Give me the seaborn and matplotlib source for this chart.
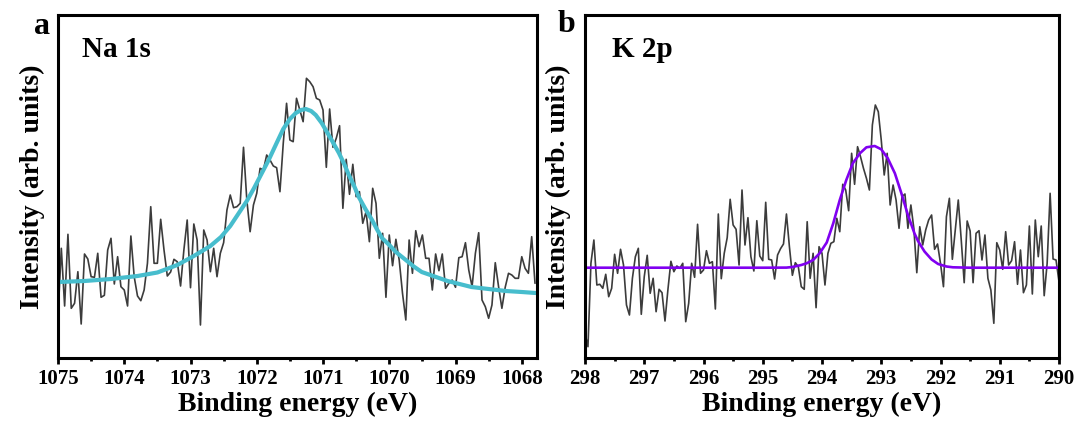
import numpy as np
import pandas as pd
import matplotlib
matplotlib.use("Agg")
import matplotlib.pyplot as plt
import seaborn as sns
from matplotlib.ticker import MultipleLocator

# ---------------- data ----------------
# Na 1s: measured spectrum (uniform energy grid, 0.05 eV step)
na_start, na_step = 1075.0, 0.05
na_counts = [
    41.3, 109.7, 52.0, 123.7, 49.7, 54.7, 86.3, 34.0, 104.0, 99.0, 81.3, 80.7,
    104.7, 60.7, 62.7, 108.0, 119.7, 74.0, 101.3, 71.3, 68.0, 52.0, 122.0, 81.3,
    62.0, 57.3, 68.0, 94.7, 151.3, 94.7, 94.7, 138.7, 108.0, 82.0, 86.0, 98.7,
    96.3, 72.0, 108.0, 138.0, 70.3, 134.0, 118.0, 33.0, 128.0, 118.0, 86.3, 109.7,
    81.3, 104.7, 115.3, 148.0, 163.0, 150.3, 151.3, 154.7, 210.7, 158.0, 126.3, 153.0,
    164.7, 189.7, 188.0, 203.0, 198.0, 192.0, 190.3, 166.3, 214.7, 254.7, 218.0, 216.3,
    259.7, 248.0, 236.3, 279.7, 276.3, 271.3, 259.7, 258.0, 248.0, 190.7, 249.0, 210.7,
    219.7, 232.3, 149.7, 198.7, 163.7, 193.7, 161.3, 166.3, 134.7, 146.3, 116.3, 169.7,
    154.7, 99.7, 124.7, 60.7, 123.0, 92.3, 118.7, 98.0, 64.7, 38.0, 118.0, 84.7,
    127.3, 111.3, 123.0, 99.7, 99.7, 68.0, 104.0, 87.3, 104.0, 69.7, 74.7, 78.0,
    70.7, 100.3, 101.3, 115.3, 88.0, 71.3, 104.7, 125.3, 58.0, 51.3, 39.7, 53.0,
    95.3, 71.3, 49.7, 70.7, 84.7, 83.0, 79.7, 79.7, 101.3, 89.7, 84.7, 121.3, 74.7,
]
# Na 1s: fitted envelope
na_fit_energy = [1075.00, 1074.60, 1074.20, 1073.80, 1073.50, 1073.20, 1072.95, 1072.70,
                 1072.54, 1072.40, 1072.27, 1072.15, 1072.04, 1071.93, 1071.82, 1071.70,
                 1071.60, 1071.50, 1071.41, 1071.33, 1071.26, 1071.18, 1071.11, 1071.02,
                 1070.95, 1070.87, 1070.76, 1070.68, 1070.61, 1070.53, 1070.46, 1070.36,
                 1070.26, 1070.18, 1070.11, 1070.00, 1069.90, 1069.75, 1069.63, 1069.51,
                 1069.38, 1069.25, 1069.12, 1069.00, 1068.76, 1068.50, 1068.24, 1068.00,
                 1067.79]
na_fit = [76, 77, 79, 82, 85.5, 93, 102, 112,
          121, 132, 145, 157, 170, 184, 198, 215,
          229, 239, 245, 248, 249, 247, 243, 235,
          227, 218, 205, 194, 183, 172, 161, 149,
          138, 128, 120, 113, 106, 98, 91.5, 86,
          83, 80, 77, 75, 71, 69, 67, 66,
          65]

# K 2p: measured spectrum (uniform energy grid, 0.05 eV step)
k_start, k_step = 298.0, 0.05
k_counts = [
    24.7, 11.3, 94.7, 118.0, 73.0, 73.7, 69.7, 83.7, 61.3, 69.7, 103.7, 84.7,
    108.7, 93.0, 53.0, 43.0, 79.7, 101.3, 109.7, 43.7, 81.3, 102.7, 64.7, 79.7,
    46.3, 68.7, 65.3, 37.0, 68.7, 96.7, 86.3, 92.0, 89.7, 94.7, 36.3, 54.7,
    94.7, 80.7, 133.7, 84.7, 88.0, 107.3, 94.7, 96.3, 49.0, 144.0, 79.3, 104.7,
    120.3, 158.7, 133.0, 128.7, 93.0, 168.0, 113.0, 140.3, 101.3, 87.0, 137.3, 102.0,
    97.3, 155.7, 98.7, 98.0, 79.0, 103.0, 109.3, 114.0, 144.0, 111.3, 82.7, 95.3,
    91.3, 71.3, 68.7, 136.3, 79.7, 104.7, 50.3, 111.3, 104.7, 73.0,
    104.7, 114.7, 116.3, 139.7, 126.3, 173.7, 168.0, 147.3, 204.7, 173.7, 211.3, 201.3,
    189.7, 179.7, 168.0, 233.0, 253.0, 246.3, 218.0, 183.0, 204.7, 153.0, 173.0, 158.0,
    129.7, 161.3, 164.0, 129.7, 153.0, 129.7, 85.3, 131.3, 113.0, 128.0, 138.0, 143.0,
    108.7, 114.0, 94.7, 71.3, 141.3, 159.7, 98.7, 128.0, 158.0, 118.0, 75.3, 137.0,
    127.0, 75.3, 124.7, 127.3, 98.0, 123.0, 79.7, 68.0, 34.7, 115.3, 108.0, 88.7,
    126.3, 93.0, 97.3, 116.3, 73.7, 108.0, 65.3, 73.0, 132.0, 64.0, 138.0, 101.3,
    132.0, 62.3, 94.7, 164.7, 99.0, 98.0, 76.3,
]
# K 2p: fitted Gaussian envelope
k_fit_energy = [298.00, 295.00, 294.60, 294.50, 294.35, 294.26, 294.15, 294.04, 293.92,
                293.81, 293.70, 293.59, 293.48, 293.36, 293.25, 293.11, 293.00, 292.89,
                292.77, 292.66, 292.55, 292.44, 292.38, 292.27, 292.15, 292.04, 291.90,
                291.79, 291.51, 290.00]
k_fit = [90.3, 90.3, 90.4, 91.0, 93.0, 94.7, 98.0, 104.7, 115.5,
         134.7, 158.0, 178.0, 194.7, 204.7, 210.7, 212.0, 208.7, 199.7,
         184.7, 164.7, 143.0, 124.7, 117.0, 106.5, 98.5, 94.0, 91.5,
         90.7, 90.3, 90.3]

panel_letters = ["a", "b"]
panel_titles = ["Na 1s", "K 2p"]
xlabel = "Binding energy (eV)"
ylabel = "Intensity (arb. units)"

na_df = pd.DataFrame({"E": np.round(na_start - na_step * np.arange(len(na_counts)), 3),
                      "I": na_counts})
k_df = pd.DataFrame({"E": np.round(k_start - k_step * np.arange(len(k_counts)), 3),
                     "I": k_counts})

# ---------------- style ----------------
sns.set_style("ticks")
plt.rcParams["font.family"] = ["Liberation Serif", "DejaVu Serif"]
plt.rcParams["font.weight"] = "bold"
plt.rcParams["text.color"] = "black"
plt.rcParams["axes.labelcolor"] = "black"
plt.rcParams["xtick.color"] = "black"
plt.rcParams["ytick.color"] = "black"

W, H = 1083, 425
fig = plt.figure(figsize=(W / 100, H / 100), dpi=100)
axA = fig.add_axes([58 / W, 1 - 358 / H, (537 - 58) / W, 343 / H])
axB = fig.add_axes([585 / W, 1 - 358 / H, (1059 - 585) / W, 343 / H])

gray = "#3c3c3c"
sns.lineplot(data=na_df, x="E", y="I", ax=axA, color=gray, linewidth=1.2, estimator=None)
sns.lineplot(x=na_fit_energy, y=na_fit, ax=axA, color="#47BDCD", linewidth=3.0, estimator=None)
sns.lineplot(data=k_df, x="E", y="I", ax=axB, color=gray, linewidth=1.2, estimator=None)
sns.lineplot(x=k_fit_energy, y=k_fit, ax=axB, color="#8000F0", linewidth=1.9, estimator=None)

axA.set_xlim(1075, 1067.77)
axB.set_xlim(298, 290)

for ax, letter, title, lx in [(axA, "a", "Na 1s", 0.050), (axB, "b", "K 2p", 0.057)]:
    ax.set_ylim(0, 343)
    ax.set_yticks([])
    ax.xaxis.set_major_locator(MultipleLocator(1))
    ax.xaxis.set_minor_locator(MultipleLocator(0.5))
    ax.tick_params(axis="x", which="major", direction="out", length=4, width=2,
                   labelsize=15, pad=4, colors="black")
    ax.tick_params(axis="x", which="minor", direction="out", length=2.5, width=2,
                   colors="black")
    for lab in ax.get_xticklabels():
        lab.set_fontweight("bold")
    for sp in ax.spines.values():
        sp.set_visible(True)
        sp.set_linewidth(2.2)
        sp.set_color("black")
    ax.set_xlabel(xlabel, fontsize=20, fontweight="bold", color="black")
    ax.set_ylabel(ylabel, fontsize=20, fontweight="bold", color="black")
    ax.xaxis.set_label_coords(0.5, -0.10)
    ax.text(lx, 0.898, title, transform=ax.transAxes, fontsize=21, fontweight="bold",
            ha="left", va="center", color="black")

axA.yaxis.set_label_coords(-0.027, 0.5)
axB.yaxis.set_label_coords(-0.0295, 0.5)

fig.text(42 / W, 1 - 26 / H, "a", fontsize=23, fontweight="bold", ha="center", va="center",
         color="black")
fig.text(567 / W, 1 - 24 / H, "b", fontsize=23, fontweight="bold", ha="center", va="center",
         color="black")

fig.savefig("out.png", dpi=100)
